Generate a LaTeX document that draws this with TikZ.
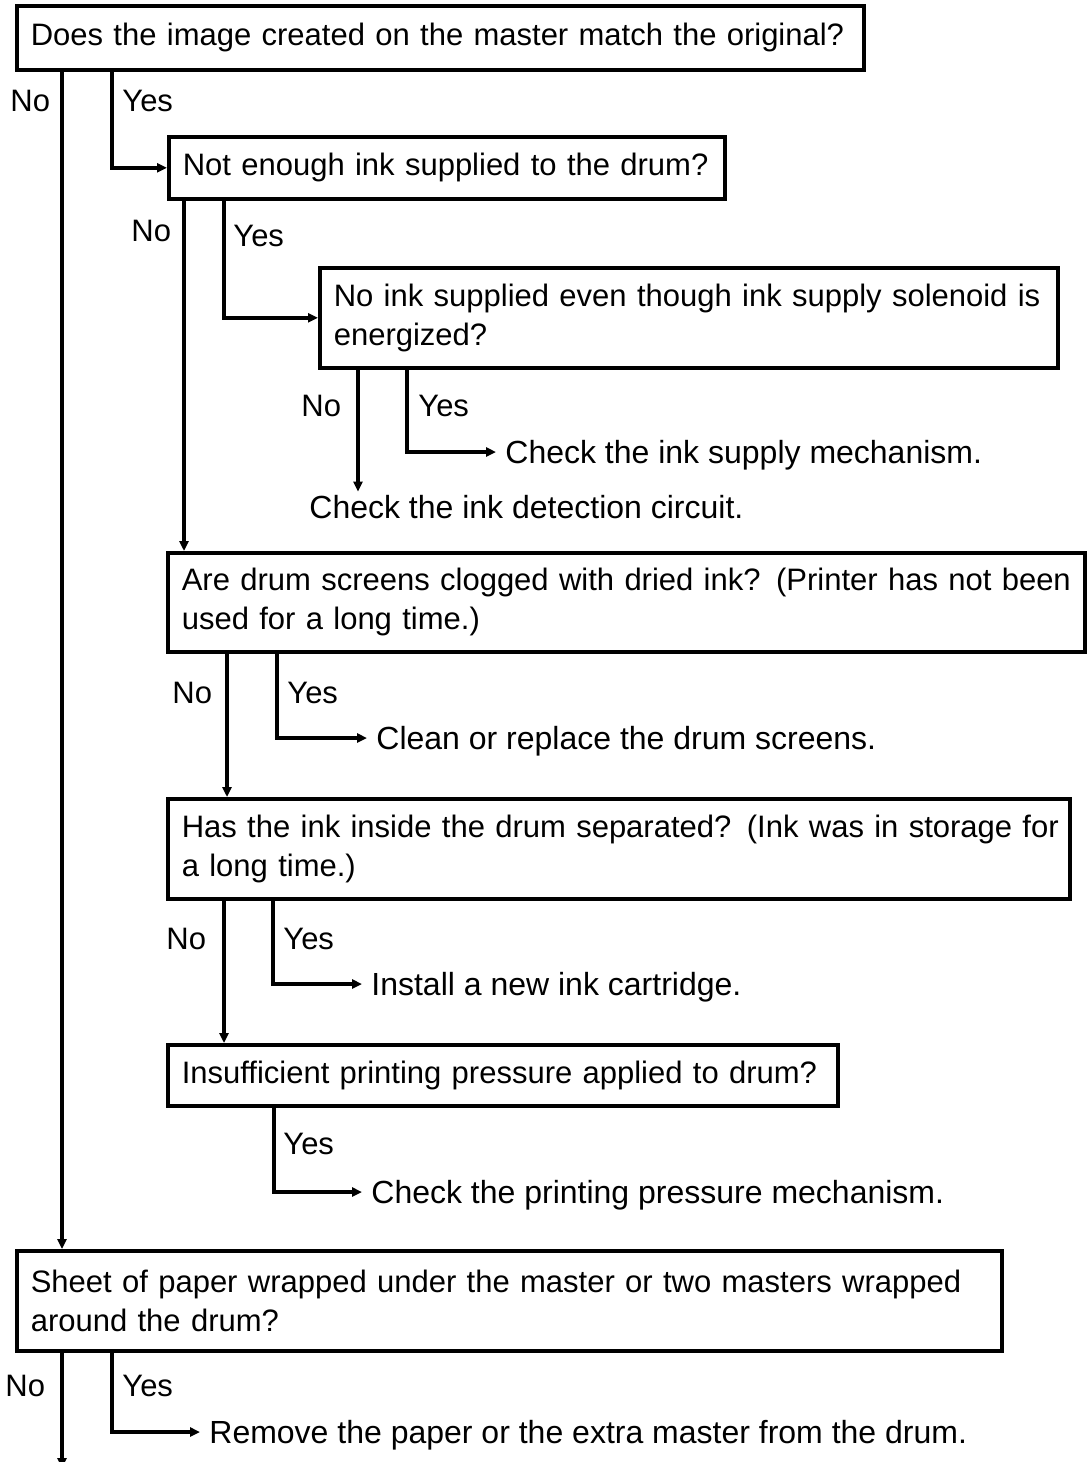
\documentclass[tikz,border=0pt]{standalone}
\usepackage{fontspec}
\setmainfont{Liberation Sans}
\usetikzlibrary{arrows.meta}

\tikzset{
  box/.style={draw, line width=1.8pt, anchor=north west, align=left, inner xsep=7pt, inner ysep=0pt},
  txt/.style={anchor=west, inner xsep=0pt, inner ysep=2pt, text height=11pt, text depth=0pt},
  result/.style={txt, inner xsep=4.5pt, font=\fontsize{16}{19.5}\selectfont},
  flow/.style={line width=1.8pt, -{Triangle[length=5pt,width=4.5pt]}},
}

\begin{document}
\begin{tikzpicture}[x=0.5pt, y=-0.5pt, font=\fontsize{15.5}{19.5}\selectfont]
\useasboundingbox (0,0) rectangle (1087,1462);

% questions
\node[box, text width=409.5pt, minimum height=32pt] (match) at (15,4)
  {\mbox{Does the image created on the master match the original?}};
\node[box, text width=264pt, minimum height=31pt] (supplied) at (167,135)
  {\mbox{Not enough ink supplied to the drum?}};
\node[box, text width=355pt, minimum height=50pt] (solenoid) at (318,266)
  {\mbox{No ink supplied even though ink supply solenoid is}\\energized?};
\node[box, text width=444.5pt, minimum height=49.5pt] (screens) at (166,551)
  {\mbox{Are drum screens clogged with dried ink? (Printer has not been}\\used for a long time.)};
\node[box, text width=437pt, minimum height=50pt] (separated) at (166,797)
  {\mbox{Has the ink inside the drum separated? (Ink was in storage for}\\a long time.)};
\node[box, text width=321pt, minimum height=30.5pt] (pressure) at (166,1043)
  {\mbox{Insufficient printing pressure applied to drum?}};
\node[box, text width=478.5pt, minimum height=50pt] (wrapped) at (15,1249)
  {\mbox{Sheet of paper wrapped under the master or two masters wrapped}\\around the drum?};

% actions
\node[result] (mechanism) at (496,452) {Check the ink supply mechanism.};
\node[txt, font=\fontsize{16}{19.5}\selectfont] (detection) at (309,507) {Check the ink detection circuit.};
\node[result] (cleanscr) at (367,738) {Clean or replace the drum screens.};
\node[result] (cartridge) at (362,984) {Install a new ink cartridge.};
\node[result] (checkpress) at (362,1192) {Check the printing pressure mechanism.};
\node[result] (removepaper) at (200,1432) {Remove the paper or the extra master from the drum.};

% yes / no labels
\node[txt] (no1) at (10,100) {No};
\node[txt] (yes1) at (122,100) {Yes};
\node[txt] (no2) at (131,230) {No};
\node[txt] (yes2) at (233,235) {Yes};
\node[txt] (no3) at (301,405) {No};
\node[txt] (yes3) at (418,405) {Yes};
\node[txt] (no4) at (172,692) {No};
\node[txt] (yes4) at (287,692) {Yes};
\node[txt] (no5) at (166,938) {No};
\node[txt] (yes5) at (283,938) {Yes};
\node[txt] (yes6) at (283,1143) {Yes};
\node[txt] (no7) at (5,1385) {No};
\node[txt] (yes7) at (122,1385) {Yes};

% branch columns
\coordinate (mainx) at (62,0);
\coordinate (y1x) at (112,0);
\coordinate (n2x) at (184,0);
\coordinate (y2x) at (224,0);
\coordinate (n3x) at (358,0);
\coordinate (y3x) at (407,0);
\coordinate (n4x) at (227,0);
\coordinate (y4x) at (277,0);
\coordinate (n5x) at (224,0);
\coordinate (y5x) at (273,0);
\coordinate (y6x) at (274,0);
\coordinate (y7x) at (112,0);
\coordinate (exit) at (62,1468);

% connectors
\draw[flow] (match.south -| mainx) -- (wrapped.north -| mainx);
\draw[flow] (match.south -| y1x) |- (supplied.west);
\draw[flow] (supplied.south -| n2x) -- (screens.north -| n2x);
\draw[flow] (supplied.south -| y2x) |- (solenoid.west);
\draw[flow] (solenoid.south -| n3x) -- (detection.north -| n3x);
\draw[flow] (solenoid.south -| y3x) |- (mechanism.west);
\draw[flow] (screens.south -| n4x) -- (separated.north -| n4x);
\draw[flow] (screens.south -| y4x) |- (cleanscr.west);
\draw[flow] (separated.south -| n5x) -- (pressure.north -| n5x);
\draw[flow] (separated.south -| y5x) |- (cartridge.west);
\draw[flow] (pressure.south -| y6x) |- (checkpress.west);
\draw[flow] (wrapped.south -| mainx) -- (exit);
\draw[flow] (wrapped.south -| y7x) |- (removepaper.west);
\end{tikzpicture}
\end{document}
